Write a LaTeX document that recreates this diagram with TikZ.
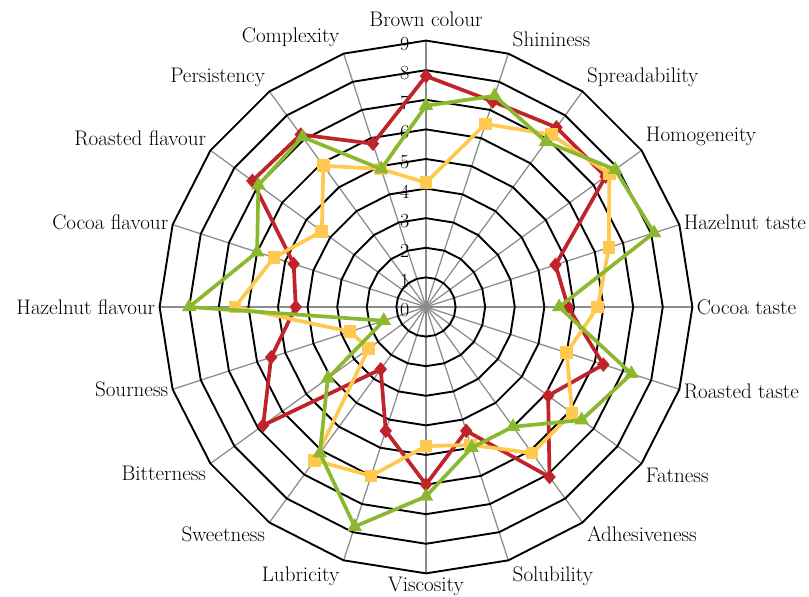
\documentclass[tikz,border=0pt]{standalone}
\usepackage{tikz}
\usetikzlibrary{shapes.geometric}

\definecolor{samplered}{RGB}{192,35,42}
\definecolor{samplegreen}{RGB}{139,184,46}
\definecolor{sampleyellow}{RGB}{255,201,79}
\definecolor{spokegray}{RGB}{140,140,140}

\begin{document}
\begin{tikzpicture}[line join=round,
  ring/.style={black, line width=1.8pt},
  spoke/.style={spokegray, line width=1.2pt},
  axislabel/.style={font=\fontsize{20}{22}\selectfont, inner sep=4pt},
  scalelabel/.style={font=\fontsize{19}{21}\selectfont, anchor=east, inner sep=0pt},
  series/.style={line width=3.5pt},
  dmark/.style={diamond, fill=samplered, inner sep=0pt, minimum width=12pt, minimum height=14pt},
  smark/.style={rectangle, fill=sampleyellow, inner sep=0pt, minimum size=12pt},
  tmark/.style={regular polygon, regular polygon sides=3, fill=samplegreen, inner sep=0pt, minimum size=16pt}]
  \def\u{0.98667}
  \useasboundingbox (-14.2,-9.667) rectangle (12.767,10.233);
  \coordinate (o) at (0,0);
  % spokes and axis labels
  \foreach \lab/\anc/\sh [count=\i from 0] in {Brown colour/south/9pt, Shininess/south west/2pt,
      Spreadability/south west/0pt, Homogeneity/south west/0pt, Hazelnut taste/west/2pt,
      Cocoa taste/west/0pt, Roasted taste/west/-2pt, Fatness/north west/0pt,
      Adhesiveness/north west/0pt, Solubility/north west/-2pt, Viscosity/north/1pt,
      Lubricity/north east/-2pt, Sweetness/north east/0pt, Bitterness/north east/2pt,
      Sourness/east/0pt, Hazelnut flavour/east/0pt, Cocoa flavour/east/2pt,
      Roasted flavour/south east/0pt, Persistency/south east/0pt, Complexity/south east/2pt} {
    \coordinate (v\i) at ({90-\i*18}:{9*\u});
    \draw[spoke] (o) -- (v\i);
    \node[axislabel, anchor=\anc, yshift=\sh] (lab\i) at (v\i) {\lab};
  }
  % rings
  \foreach \k in {1,...,9}
    \draw[ring] (90:{\k*\u}) \foreach \j in {1,...,19} {-- ({90-\j*18}:{\k*\u})} -- cycle;
  % scale
  \foreach \k in {0,...,9}
    \node[scalelabel] (s\k) at (-0.55,{\k*\u-0.1}) {\k};

  % red series
  \def\redvals{7.8,7.3,7.5,7.5,4.6,4.8,6.3,5.1,7.1,4.4,6.0,4.4,2.6,6.8,5.5,4.4,4.7,7.25,7.2,5.8}
  \foreach \v [count=\i from 0] in \redvals
    \coordinate (r\i) at ({90-\i*18}:{\v*\u});
  \draw[series, samplered] (r0) \foreach \i in {1,...,19} {-- (r\i)} -- cycle;
  \foreach \i in {0,...,19} \node[dmark] (rm\i) at (r\i) {};

  % yellow series
  \def\yelvals{4.2,6.5,7.2,7.65,6.5,5.8,5.0,6.1,6.1,4.9,4.7,6.0,6.4,2.4,2.7,6.45,5.4,4.35,5.9,4.9}
  \foreach \v [count=\i from 0] in \yelvals
    \coordinate (y\i) at ({90-\i*18}:{\v*\u});
  \draw[series, sampleyellow] (y0) \foreach \i in {1,...,19} {-- (y\i)} -- cycle;
  \foreach \i in {0,...,19} \node[smark] (ym\i) at (y\i) {};

  % green series
  \def\grnvals{6.8,7.5,6.9,7.9,8.1,4.5,7.3,6.5,5.0,5.0,6.4,7.8,6.1,4.1,1.5,8.0,6.0,7.0,7.1,4.9}
  \foreach \v [count=\i from 0] in \grnvals
    \coordinate (g\i) at ({90-\i*18}:{\v*\u});
  \draw[series, samplegreen] (g0) \foreach \i in {1,...,19} {-- (g\i)} -- cycle;
  \foreach \i in {0,...,19} \node[tmark] (gm\i) at (g\i) {};
\end{tikzpicture}
\end{document}
